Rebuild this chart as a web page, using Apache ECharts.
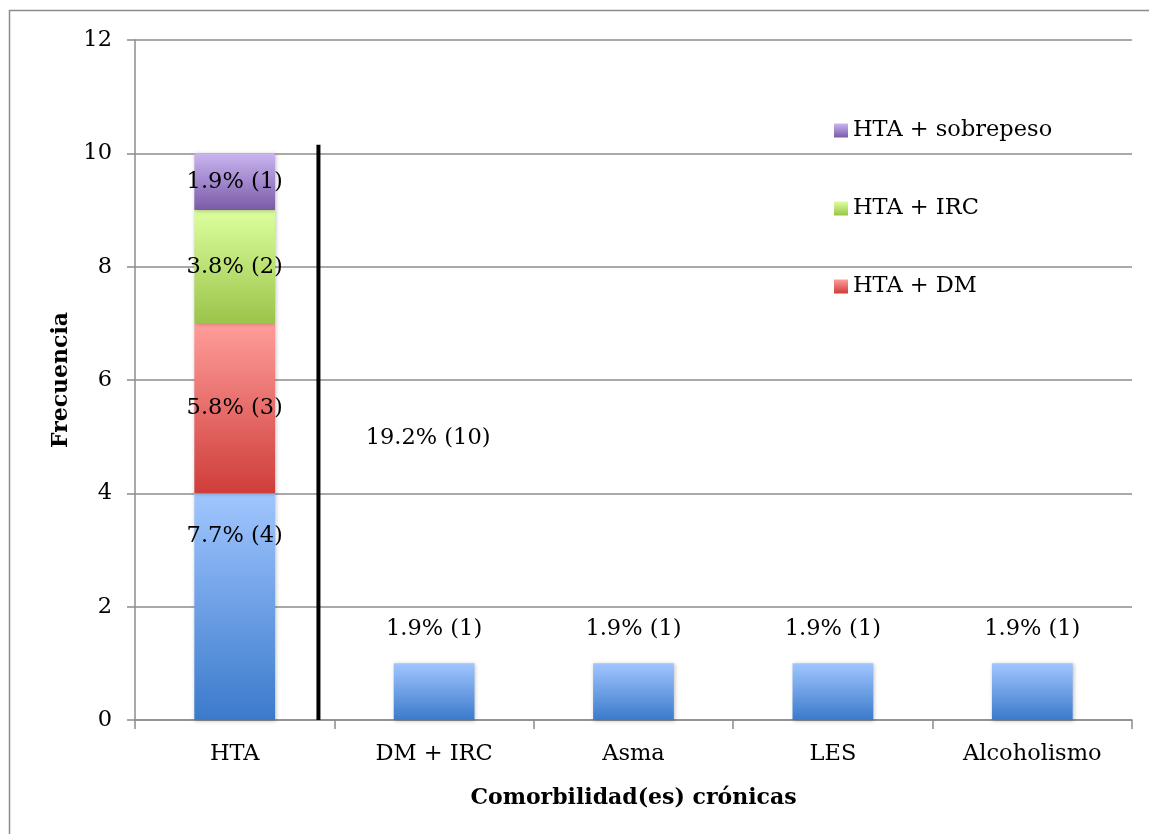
<!DOCTYPE html>
<html>
<head>
<meta charset="utf-8">
<script src="https://cdn.jsdelivr.net/npm/echarts@6/dist/echarts.min.js"></script>
<style>
html,body{margin:0;padding:0;background:#fff;}
#chart{width:1149px;height:834px;}
</style>
</head>
<body>
<div id="chart"></div>
<script>
// ---- data ----
const categories = ['HTA', 'DM + IRC', 'Asma', 'LES', 'Alcoholismo'];
const baseValues = [4, 1, 1, 1, 1];
const baseLabels = ['7.7% (4)', '1.9% (1)', '1.9% (1)', '1.9% (1)', '1.9% (1)'];
const dmValues = [3, null, null, null, null];
const dmLabels = ['5.8% (3)', '', '', '', ''];
const ircValues = [2, null, null, null, null];
const ircLabels = ['3.8% (2)', '', '', '', ''];
const sobValues = [1, null, null, null, null];
const sobLabels = ['1.9% (1)', '', '', '', ''];
const seriesNames = ['HTA + DM', 'HTA + IRC', 'HTA + sobrepeso'];
const legendOrder = ['HTA + sobrepeso', 'HTA + IRC', 'HTA + DM'];
const dividerLine = [[0.42, 0], [0.42, 10.15]];
const totalLabelPoint = [0.97, 4.97];
const totalLabelText = '19.2% (10)';
const yTicks = { min: 0, max: 12, interval: 2 };

const FONT = 'DejaVu Serif';
const FS = 22.5;
function grad(top, bottom) {
  return new echarts.graphic.LinearGradient(0, 0, 0, 1, [
    { offset: 0, color: top }, { offset: 1, color: bottom }
  ]);
}
const chart = echarts.init(document.getElementById('chart'));
const labelStyle = { color: '#000', fontFamily: FONT, fontSize: FS };
const barShadow = { shadowColor: 'rgba(0,0,0,0.25)', shadowBlur: 4, shadowOffsetX: 1, shadowOffsetY: 1 };

const baseData = baseValues.map((v, i) => ({
  value: v,
  label: i === 0
    ? { show: true, position: 'insideTop', distance: 31, formatter: baseLabels[i] }
    : { show: true, position: 'top', distance: 23, formatter: baseLabels[i] }
}));
function stackData(vals, labels) {
  return vals.map((v, i) => ({ value: v, label: { show: !!labels[i], position: 'inside', formatter: labels[i] } }));
}

chart.setOption({
  animation: false,
  backgroundColor: '#fff',
  graphic: [{
    type: 'rect', shape: { x: 9.5, y: 10.5, width: 1160, height: 840 },
    style: { fill: 'none', stroke: '#8c8c8c', lineWidth: 1.5 }, silent: true, z: -10
  }],
  grid: { left: 135, right: 17, top: 40, bottom: 114 },
  legend: {
    data: legendOrder,
    orient: 'vertical',
    left: 829, top: 114,
    itemWidth: 14, itemHeight: 14,
    itemGap: 55,
    icon: 'rect',
    textStyle: { fontFamily: FONT, fontSize: FS, color: '#000' }
  },
  xAxis: [{
    type: 'category',
    data: categories,
    name: 'Comorbilidad(es) crónicas',
    nameLocation: 'middle',
    nameGap: 67,
    nameTextStyle: { fontFamily: FONT, fontSize: 22, fontWeight: 'bold', color: '#000' },
    axisLine: { lineStyle: { color: '#8c8c8c', width: 1.5 } },
    axisTick: { show: true, length: 9, lineStyle: { color: '#8c8c8c', width: 1.5 } },
    axisLabel: { fontFamily: FONT, fontSize: FS, color: '#000', margin: 23 }
  }, {
    type: 'value', min: -0.5, max: 4.5, show: false
  }],
  yAxis: {
    type: 'value',
    min: yTicks.min, max: yTicks.max, interval: yTicks.interval,
    name: 'Frecuencia',
    nameLocation: 'middle',
    nameGap: 62,
    nameTextStyle: { fontFamily: FONT, fontSize: 22, fontWeight: 'bold', color: '#000' },
    axisLine: { show: true, onZero: false, lineStyle: { color: '#8c8c8c', width: 1.5 } },
    axisTick: { show: true, length: 8, lineStyle: { color: '#8c8c8c', width: 1.5 } },
    axisLabel: { fontFamily: FONT, fontSize: FS, color: '#000', margin: 23 },
    splitLine: { lineStyle: { color: '#8c8c8c', width: 1.5 } }
  },
  series: [{
    name: 'Base', type: 'bar', stack: 'a', barWidth: '40.5%',
    data: baseData,
    itemStyle: Object.assign({ color: grad('#a1c6ff', '#3b7acb') }, barShadow),
    label: labelStyle
  }, {
    name: seriesNames[0], type: 'bar', stack: 'a',
    data: stackData(dmValues, dmLabels),
    itemStyle: Object.assign({ color: grad('#ff9d9a', '#cf3d3a') }, barShadow),
    label: labelStyle
  }, {
    name: seriesNames[1], type: 'bar', stack: 'a',
    data: stackData(ircValues, ircLabels),
    itemStyle: Object.assign({ color: grad('#dcff9e', '#9bc44a') }, barShadow),
    label: labelStyle
  }, {
    name: seriesNames[2], type: 'bar', stack: 'a',
    data: stackData(sobValues, sobLabels),
    itemStyle: Object.assign({ color: grad('#cab5f0', '#7a5aa8') }, barShadow),
    label: labelStyle
  }, {
    name: 'divider', type: 'line', xAxisIndex: 1,
    data: dividerLine, symbol: 'none',
    lineStyle: { color: '#000', width: 4 }, z: 5
  }, {
    name: 'total', type: 'scatter', xAxisIndex: 1,
    data: [totalLabelPoint], symbolSize: 0,
    itemStyle: { opacity: 1 },
    label: { show: true, position: 'inside', formatter: totalLabelText, color: '#000', fontFamily: FONT, fontSize: FS }
  }]
});
</script>
</body>
</html>
